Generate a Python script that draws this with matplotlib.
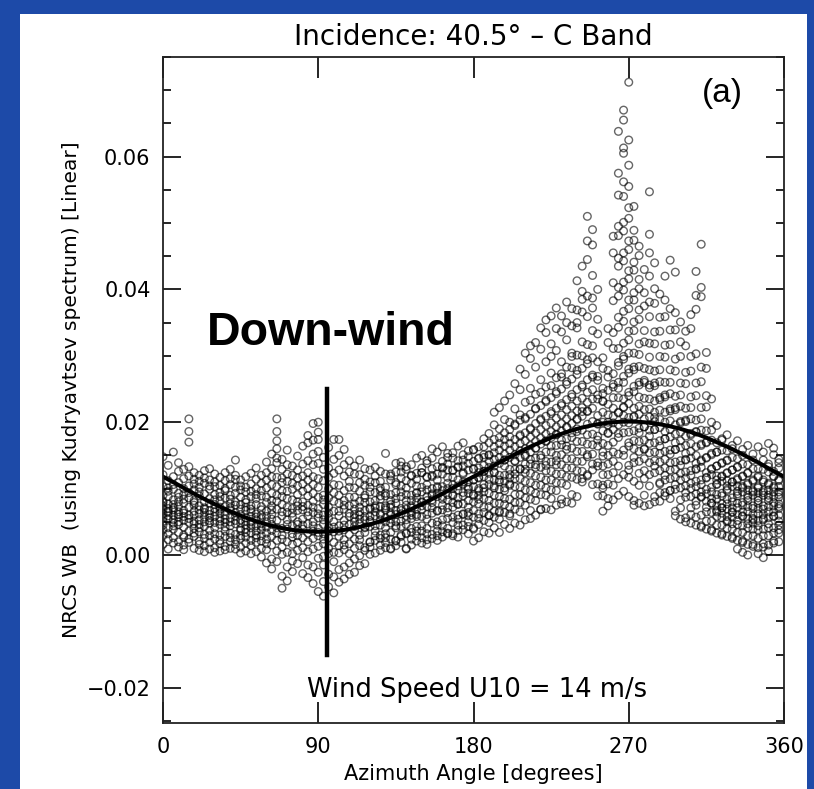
import numpy as np
import matplotlib.pyplot as plt
from matplotlib.patches import Rectangle
from matplotlib.ticker import MultipleLocator

# NRCS values, in units of 1e-3, one list per azimuth column (3 deg apart)
AZIMUTH = np.arange(0, 360, 3)
NRCS = [
    [6.2, 8.1, 4.5, 10.3, 7.4, 2.9, 5.6, 12.1, 9.0, 3.8, 6.9, 14.8, 1.6, 7.9, 5.1],
    [5.4, 9.6, 7.0, 3.2, 11.2, 6.4, 4.1, 8.8, 13.5, 2.3, 7.7, 5.9, 10.1, 0.9, 6.6],
    [7.1, 4.8, 9.9, 2.6, 6.0, 11.8, 8.3, 3.9, 5.3, 15.5, 7.6, 1.8, 10.6, 6.8, 4.4],
    [6.5, 3.4, 8.7, 10.9, 5.0, 1.2, 7.3, 12.6, 4.6, 9.3, 2.0, 6.1, 8.0, 13.9, 5.7],
    [5.8, 8.4, 3.0, 10.0, 6.7, 1.5, 7.8, 4.2, 11.5, 9.1, 2.7, 6.3, 12.9, 5.2, 0.8],
    [20.5, 18.6, 17.0, 6.0, 9.4, 3.6, 11.9, 7.2, 4.9, 13.3, 1.9, 8.6, 5.5, 10.4, 2.4],
    [5.1, 7.5, 2.8, 9.8, 11.4, 4.0, 6.6, 1.0, 8.2, 12.4, 3.3, 6.0, 10.7, 4.7, 7.9],
    [4.6, 8.9, 6.2, 2.1, 10.2, 5.3, 12.0, 3.5, 7.4, 0.7, 9.5, 6.8, 4.1, 11.1, 1.6],
    [6.4, 3.1, 8.0, 10.8, 5.0, 1.4, 7.1, 12.7, 4.3, 9.2, 2.5, 6.9, 11.6, 5.7, 0.5],
    [5.2, 7.8, 9.9, 3.7, 6.1, 1.9, 11.3, 4.8, 8.5, 2.9, 10.4, 6.7, 0.9, 13.0, 5.6],
    [4.9, 7.0, 2.4, 9.1, 5.8, 11.0, 3.2, 6.5, 8.3, 1.1, 10.3, 4.1, 12.2, 7.6, 0.4],
    [5.5, 3.0, 8.1, 6.3, 10.5, 1.7, 4.6, 9.4, 7.2, 2.2, 11.7, 5.1, 0.6, 8.8, 6.9],
    [6.0, 4.2, 8.6, 2.8, 10.0, 5.4, 7.3, 1.3, 9.7, 3.6, 12.4, 6.6, 0.8, 4.9, 11.2],
    [4.4, 7.7, 2.0, 9.0, 5.6, 11.5, 3.3, 6.8, 1.0, 8.4, 10.6, 5.0, 12.9, 2.6, 7.1],
    [14.3, 5.2, 8.0, 3.1, 6.4, 10.2, 1.6, 4.7, 9.3, 7.5, 2.3, 11.4, 5.9, 0.9, 12.0],
    [4.8, 6.9, 2.5, 8.7, 5.3, 10.4, 1.2, 7.6, 3.7, 9.8, 0.3, 6.1, 11.3, 4.0, 2.9],
    [5.6, 3.4, 7.9, 1.8, 9.5, 4.5, 6.7, 11.8, 2.7, 8.3, 0.6, 5.1, 10.2, 3.9, 7.2],
    [4.1, 6.5, 2.2, 8.8, 5.0, 10.7, 1.4, 7.4, 3.3, 9.6, 0.2, 5.8, 12.3, 4.6, 6.9],
    [5.3, 3.0, 7.6, 1.9, 9.1, 4.4, 6.2, 11.4, 2.6, 8.5, 0.5, 5.7, 10.0, 3.6, 13.1],
    [4.7, 6.8, 2.1, 8.9, 5.5, 10.8, 1.0, 7.3, 3.8, 9.7, -0.3, 6.0, 12.0, 4.3, 2.9],
    [5.0, 7.9, 2.4, 10.1, 4.2, 12.4, 0.8, 6.6, 3.3, 8.7, -1.2, 5.8, 11.3, 1.7, 14.0],
    [4.6, 8.2, 1.5, 10.6, 6.1, 13.0, -0.6, 3.7, 9.3, 5.4, 11.8, -2.1, 7.4, 2.8, 15.2, 6.8],
    [20.5, 18.6, 17.2, 16.0, 5.2, 9.0, 2.2, 11.7, 6.9, 13.9, -1.0, 4.1, 8.1, 0.6, 14.6, 3.3, 10.3],
    [4.0, 7.6, 1.2, 10.9, 5.9, 12.9, -3.2, 3.0, 8.8, -5.0, 14.4, 6.5, 0.1, 9.7, 2.4, 11.6],
    [5.3, 8.5, 2.0, 11.1, 6.4, 13.6, -1.8, 3.9, 9.6, -3.9, 4.6, 0.4, 7.2, 12.2, 15.8],
    [4.4, 7.0, 1.6, 9.9, 5.7, 12.0, -2.5, 3.2, 8.3, 0.2, 10.8, 6.3, 2.7, 13.4, -0.9],
    [5.0, 8.0, 2.9, 10.4, 6.7, 12.8, -1.3, 3.8, 9.1, 0.7, 11.6, 4.6, 14.9, 1.9, 7.4],
    [3.9, 6.8, 1.1, 9.6, 5.4, 11.9, -2.8, 2.6, 8.0, -0.4, 10.7, 4.5, 13.7, 7.3, 16.4],
    [4.7, 7.5, 2.0, 10.0, 5.9, 12.4, -3.4, 3.3, 8.9, 0.5, 11.3, -1.5, 6.5, 14.2, 16.9, 18.0],
    [3.6, 6.4, 0.9, 9.3, 5.0, 11.8, -4.3, 2.5, 8.1, -1.8, 10.6, 4.4, 13.6, 19.8, 17.3, 15.2, 7.2],
    [20.0, 18.5, 17.4, 4.0, 7.0, 1.3, 10.2, -5.5, 2.9, 8.7, -2.6, 11.5, 5.6, -0.5, 13.8, 15.6, 6.2, 3.4],
    [3.2, 6.0, -0.2, 9.0, 4.6, 11.2, -4.0, 1.7, 7.6, -6.2, 12.9, 2.4, 5.3, 14.7, -1.5, 8.3],
    [4.1, 7.2, 1.0, 10.0, 5.5, 13.1, -2.9, 2.6, 8.6, -4.8, 11.7, 6.3, 16.2, 0.2, 3.6],
    [3.5, 6.6, 0.4, 9.4, 5.0, 12.3, -3.3, 1.9, 8.1, -5.7, 14.4, 10.6, 4.2, -1.0, 17.4],
    [4.4, 7.8, 1.4, 10.5, 5.9, 12.8, -2.2, 2.8, 9.0, -4.1, 15.0, 6.6, 17.4, 0.3, 3.6],
    [3.8, 6.9, 0.8, 9.7, 5.2, 11.9, -1.8, 2.3, 8.2, -3.6, 13.6, 4.5, 15.9, 7.5, 1.5],
    [4.6, 7.4, 1.7, 10.2, 5.8, 12.5, -1.2, 3.1, 8.7, -2.9, 14.2, 6.3, 0.2, 11.1],
    [4.3, 6.9, 1.0, 8.7, 5.6, 12.2, -0.6, 2.4, 7.7, -2.6, 13.4, 3.8, 10.1, 6.1, 5.0],
    [5.4, 7.2, 2.3, 10.9, 6.5, 12.1, -0.1, 3.0, 9.6, 1.4, 14.3, 4.7, 8.1, -1.6, 6.0],
    [4.2, 7.9, 1.1, 9.0, 5.3, 11.4, 0.7, 3.4, 8.6, -1.3, 10.5, 4.1, 6.7, 13.0, 5.8],
    [5.8, 8.0, 2.0, 10.2, 6.9, 12.8, 1.2, 4.3, 9.5, 1.9, 4.9, 7.1, 11.0, 0.1, 5.2],
    [4.4, 7.1, 2.2, 9.4, 6.5, 11.9, 0.3, 3.6, 8.2, 5.9, 2.9, 10.9, 13.2, 7.4],
    [6.0, 8.9, 2.5, 10.1, 6.2, 12.6, 1.5, 4.5, 9.7, 3.0, 7.3, 11.1, 0.7, 5.3, 8.4],
    [15.3, 5.6, 7.4, 2.6, 9.3, 6.8, 12.2, 1.1, 3.2, 8.9, 4.1, 1.9, 10.2, 7.1, 5.0],
    [6.3, 8.2, 3.4, 11.3, 7.6, 12.2, 1.0, 4.8, 9.1, 2.4, 6.0, 11.9, 0.9, 7.2, 5.4],
    [5.0, 8.5, 2.1, 10.6, 6.1, 12.5, 1.4, 4.1, 9.4, 4.4, 7.8, 10.9, 13.8, 2.2, 6.7],
    [6.7, 9.5, 3.0, 11.6, 7.0, 13.4, 1.9, 4.3, 10.4, 2.8, 5.1, 8.8, 12.5, 14.0, 6.2],
    [5.3, 8.2, 3.3, 10.1, 7.5, 12.9, 1.0, 4.6, 9.1, 3.2, 6.9, 11.2, 0.9, 13.3, 5.9],
    [7.1, 9.0, 3.4, 11.9, 7.4, 13.6, 2.4, 5.5, 10.8, 4.0, 6.4, 8.2, 12.0, 1.5, 6.0],
    [5.8, 9.4, 3.6, 10.4, 7.9, 12.3, 2.1, 4.3, 9.3, 2.9, 6.1, 11.4, 14.6, 8.6, 6.9],
    [7.4, 9.5, 4.4, 12.4, 8.0, 13.1, 2.6, 5.8, 10.2, 3.6, 6.8, 12.4, 1.8, 15.0, 7.9],
    [6.1, 9.8, 3.2, 11.8, 7.3, 13.8, 2.3, 5.4, 10.6, 4.0, 8.2, 11.7, 14.2, 1.6, 8.8],
    [7.9, 10.0, 4.8, 12.0, 9.2, 14.6, 2.5, 6.3, 11.8, 3.1, 7.1, 9.0, 13.0, 16.0, 8.3],
    [6.7, 10.3, 4.5, 11.3, 8.8, 13.3, 2.9, 5.0, 10.1, 3.6, 6.6, 12.2, 15.5, 2.2, 9.3],
    [8.4, 10.3, 5.3, 13.2, 8.8, 14.1, 3.5, 6.8, 12.2, 4.4, 7.5, 13.1, 2.7, 16.3, 9.7],
    [7.1, 10.8, 4.0, 12.8, 8.3, 14.7, 3.3, 5.5, 11.7, 3.2, 6.4, 10.0, 13.7, 15.3, 9.1],
    [8.9, 11.7, 5.7, 12.8, 9.1, 15.4, 3.2, 7.2, 12.7, 4.9, 7.9, 10.0, 14.6, 2.9, 10.6],
    [7.7, 10.4, 5.4, 13.2, 9.8, 14.2, 3.7, 6.0, 11.3, 4.5, 7.6, 13.3, 16.4, 2.7, 8.6],
    [9.4, 12.2, 6.2, 13.4, 10.7, 15.1, 4.5, 7.7, 12.4, 3.8, 6.1, 8.9, 14.3, 16.9, 11.0],
    [8.2, 11.0, 5.9, 13.8, 9.3, 15.7, 4.3, 6.4, 12.8, 5.0, 7.2, 10.2, 14.8, 3.2, 9.9],
    [9.1, 12.9, 6.7, 14.1, 11.3, 15.8, 4.1, 8.0, 13.0, 3.9, 8.9, 11.3, 15.9, 5.7, 2.1, 10.3],
    [9.7, 11.6, 5.5, 14.5, 10.0, 16.3, 4.6, 7.7, 12.4, 2.6, 8.4, 11.7, 14.6, 6.2, 13.1, 9.0],
    [10.6, 12.6, 7.2, 14.7, 11.8, 16.3, 5.2, 8.5, 13.5, 3.5, 9.5, 12.6, 6.4, 15.1, 17.5, 10.1],
    [9.3, 13.2, 6.0, 15.0, 10.6, 16.9, 4.9, 7.3, 14.1, 3.3, 8.2, 5.9, 12.3, 15.1, 18.3, 11.4],
    [11.3, 13.4, 7.8, 15.4, 12.5, 17.4, 5.7, 9.0, 14.4, 4.1, 10.1, 6.6, 12.4, 16.3, 19.6, 21.5, 10.4],
    [9.9, 13.8, 6.6, 15.8, 11.3, 17.7, 5.4, 7.8, 14.7, 3.4, 8.8, 12.0, 16.8, 6.4, 19.0, 22.2, 11.0],
    [12.0, 14.3, 8.5, 16.4, 13.4, 18.4, 6.4, 9.7, 15.2, 4.6, 10.1, 14.3, 7.6, 17.4, 20.4, 23.2, 11.1],
    [10.7, 14.7, 7.2, 16.8, 12.1, 18.9, 5.9, 8.4, 15.8, 4.0, 10.5, 12.9, 17.8, 20.0, 24.1, 6.2, 11.6],
    [12.9, 15.1, 9.1, 17.4, 14.2, 19.7, 6.9, 10.3, 16.3, 4.8, 11.5, 14.1, 19.5, 22.0, 25.8, 7.9, 12.2],
    [11.5, 15.7, 7.9, 17.9, 12.9, 20.3, 6.5, 9.1, 16.8, 4.5, 10.2, 14.7, 18.1, 21.1, 24.9, 28.0, 13.0],
    [13.7, 16.0, 9.8, 18.4, 15.1, 20.7, 7.5, 11.1, 17.2, 5.3, 12.4, 14.9, 20.5, 23.0, 27.2, 30.4, 8.6, 12.9],
    [12.3, 16.5, 8.4, 18.9, 13.7, 21.2, 6.7, 9.7, 17.8, 5.5, 10.9, 15.5, 19.1, 23.3, 25.1, 29.6, 31.5, 14.4],
    [14.6, 17.1, 10.5, 19.8, 16.1, 22.1, 8.2, 11.9, 18.4, 6.0, 13.2, 16.1, 22.0, 24.2, 28.3, 32.0, 9.3, 13.6],
    [13.2, 17.6, 9.1, 20.3, 14.6, 22.5, 6.9, 10.5, 18.9, 6.8, 11.7, 16.7, 20.5, 24.5, 26.4, 31.0, 34.2, 15.0],
    [15.5, 18.2, 11.3, 20.9, 17.1, 23.3, 9.0, 12.7, 19.5, 7.0, 14.1, 17.2, 23.1, 25.3, 29.1, 33.5, 10.1, 35.4, 13.5],
    [14.0, 18.6, 9.8, 21.3, 15.5, 23.7, 8.5, 11.3, 19.9, 6.8, 12.6, 17.7, 21.6, 25.5, 27.4, 31.8, 36.0, 29.9, 16.4],
    [16.5, 19.3, 12.2, 22.1, 18.1, 24.6, 9.7, 13.6, 20.6, 7.5, 15.0, 18.2, 24.3, 26.7, 30.8, 34.1, 10.9, 37.2, 14.2],
    [15.1, 19.8, 10.8, 22.5, 16.6, 25.0, 8.4, 12.2, 21.1, 7.7, 13.6, 18.7, 22.8, 26.8, 29.1, 33.6, 36.0, 27.3, 17.3],
    [17.5, 20.5, 13.1, 23.4, 19.2, 26.1, 10.5, 14.5, 21.9, 8.0, 15.9, 19.3, 25.7, 28.3, 32.4, 35.0, 38.1, 11.8, 16.4],
    [16.1, 21.0, 11.7, 23.8, 17.7, 26.5, 9.1, 13.1, 22.4, 7.8, 14.5, 19.8, 24.2, 28.2, 30.4, 34.5, 37.1, 29.9, 18.4],
    [18.6, 21.7, 14.1, 24.9, 20.4, 27.8, 11.4, 15.6, 23.2, 8.8, 17.1, 20.5, 27.2, 30.1, 34.2, 36.9, 41.3, 12.7, 35.0, 19.0],
    [17.1, 22.2, 12.6, 25.3, 18.8, 28.1, 11.5, 14.1, 23.6, 11.0, 15.6, 20.9, 25.6, 30.0, 32.1, 36.6, 39.7, 43.5, 38.5, 21.6],
    [19.7, 23.0, 15.1, 26.4, 21.6, 29.4, 12.1, 16.7, 24.5, 11.9, 18.1, 21.7, 28.8, 31.7, 35.9, 39.0, 44.5, 47.3, 51.0, 14.8],
    [18.2, 23.5, 13.7, 26.8, 20.1, 29.7, 12.8, 15.2, 24.9, 10.6, 16.6, 22.1, 27.1, 31.5, 33.8, 38.7, 42.1, 46.7, 49.0, 37.2],
    [17.9, 21.0, 13.4, 24.1, 19.8, 26.9, 10.7, 13.9, 23.5, 8.9, 16.4, 19.7, 26.3, 29.1, 33.3, 35.5, 40.0, 17.3],
    [14.9, 20.0, 10.5, 23.1, 16.8, 25.1, 8.9, 12.1, 21.5, 6.6, 13.4, 18.7, 23.2, 28.1, 29.7, 15.5, 10.1, 24.3],
    [16.5, 19.6, 12.1, 22.7, 18.4, 26.8, 8.5, 13.7, 21.1, 7.4, 15.0, 18.3, 24.8, 27.8, 32.0, 34.1, 10.7, 20.0],
    [17.0, 22.1, 12.4, 25.3, 18.9, 27.3, 10.5, 14.1, 23.7, 8.3, 15.5, 20.9, 25.7, 31.1, 33.5, 38.3, 41.0, 45.5, 48.0, 19.9],
    [18.3, 23.7, 13.4, 26.0, 21.4, 29.0, 11.5, 15.2, 25.1, 9.0, 17.7, 21.5, 28.5, 31.1, 34.3, 35.8, 39.0, 40.3,
     43.5, 44.7, 48.1, 49.5, 54.2, 57.5, 63.8, 19.6],
    [20.0, 23.5, 15.0, 26.9, 22.2, 29.9, 12.1, 15.8, 26.0, 9.6, 18.4, 22.3, 29.5, 31.9, 35.2, 36.7, 39.9, 41.1,
     44.3, 45.5, 48.8, 50.1, 54.0, 56.2, 60.5, 61.3, 65.5, 67.0, 21.0],
    [18.5, 24.0, 13.5, 27.4, 20.7, 30.4, 11.7, 16.4, 24.5, 8.8, 16.9, 22.8, 28.0, 32.4, 33.7, 37.1, 38.4, 41.6,
     42.8, 46.0, 47.3, 50.7, 52.3, 55.5, 58.7, 71.2, 62.5, 12.8, 19.9],
    [18.7, 22.1, 13.9, 25.4, 20.8, 28.3, 11.1, 14.7, 24.6, 8.2, 17.2, 20.9, 27.9, 30.4, 33.8, 35.1, 38.4, 39.5,
     42.9, 44.1, 47.4, 48.9, 52.5, 7.5, 16.0],
    [17.1, 22.4, 12.3, 25.6, 19.1, 28.4, 10.5, 14.1, 23.8, 7.8, 15.6, 21.2, 26.0, 30.2, 31.8, 35.5, 36.9, 40.1, 41.5, 45.1, 46.5, 18.4],
    [17.3, 20.5, 12.7, 23.6, 19.3, 26.3, 9.0, 14.5, 21.9, 7.4, 15.9, 19.3, 26.0, 28.1, 32.1, 33.8, 37.5, 39.5, 43.0, 11.5, 16.0],
    [16.8, 22.0, 12.1, 25.2, 18.8, 27.9, 10.4, 13.9, 23.5, 7.6, 15.4, 20.8, 25.6, 29.8, 31.9, 35.9, 38.1, 42.0, 45.5, 48.3, 54.7, 17.9],
    [16.9, 20.1, 12.4, 23.2, 18.9, 25.9, 8.8, 14.2, 21.5, 8.0, 15.5, 18.9, 25.5, 27.7, 31.8, 33.6, 37.9, 40.1, 44.0, 13.4, 20.7],
    [15.3, 20.4, 10.9, 23.4, 17.2, 26.1, 9.4, 12.7, 21.8, 8.1, 14.0, 19.2, 23.7, 27.9, 29.9, 33.7, 35.8, 39.3, 10.7, 16.4],
    [15.6, 18.6, 11.3, 21.5, 17.5, 24.1, 8.9, 13.1, 20.0, 9.4, 14.4, 17.5, 23.8, 26.0, 29.8, 31.6, 35.9, 38.4, 42.0, 12.0],
    [13.9, 18.9, 9.7, 21.7, 15.8, 24.3, 8.5, 11.5, 20.2, 9.7, 12.8, 17.8, 22.0, 26.0, 27.9, 31.7, 33.9, 37.1, 44.4, 15.2],
    [14.0, 16.9, 9.9, 19.6, 15.9, 22.2, 6.6, 11.7, 18.2, 5.9, 12.9, 15.9, 21.9, 23.9, 27.7, 29.5, 33.9, 36.5, 42.6, 10.6],
    [12.3, 17.2, 8.3, 19.9, 14.2, 22.4, 7.1, 10.1, 18.5, 5.4, 11.3, 16.2, 20.1, 24.1, 25.9, 29.9, 32.1, 35.1, 13.5],
    [12.5, 15.3, 8.7, 17.9, 14.4, 20.3, 5.6, 10.4, 16.5, 5.0, 11.6, 14.3, 20.1, 22.1, 25.8, 27.5, 31.5, 33.7, 9.4],
    [10.8, 15.6, 7.1, 18.1, 12.7, 20.5, 6.1, 8.8, 16.8, 4.8, 10.0, 14.6, 18.3, 22.2, 23.8, 27.7, 29.9, 34.1, 36.2, 12.0],
    [11.1, 13.8, 7.5, 16.3, 13.0, 18.6, 5.7, 9.2, 15.0, 4.5, 10.3, 12.9, 18.5, 20.3, 24.0, 25.9, 30.3, 37.0, 42.7, 39.1, 8.1],
    [9.5, 14.1, 6.0, 16.5, 11.3, 18.8, 4.4, 8.7, 14.3, 4.2, 8.8, 13.2, 16.7, 20.5, 22.2, 26.1, 28.3, 46.8, 40.3, 38.9, 10.6],
    [9.9, 12.4, 6.5, 14.7, 11.7, 17.0, 5.1, 7.2, 14.6, 3.9, 9.2, 11.6, 16.9, 18.7, 22.3, 24.0, 28.1, 30.5, 8.1],
    [8.5, 12.9, 5.1, 15.1, 10.2, 17.3, 3.8, 7.8, 13.0, 3.6, 7.8, 12.1, 15.3, 18.8, 20.0, 23.5, 9.5, 6.4],
    [9.1, 11.3, 5.8, 13.4, 10.7, 15.5, 4.5, 6.5, 13.4, 3.3, 8.4, 10.6, 15.5, 16.9, 19.5, 6.7, 7.4, 11.9],
    [7.7, 11.8, 4.5, 13.8, 9.3, 15.8, 3.2, 7.1, 11.9, 3.0, 7.1, 11.1, 13.9, 17.3, 17.5, 6.3, 8.9, 5.6],
    [8.4, 10.4, 5.2, 12.3, 9.9, 14.2, 4.0, 5.8, 12.4, 2.8, 7.7, 9.7, 14.3, 15.7, 18.1, 5.0, 6.9, 11.2],
    [7.1, 11.0, 3.9, 12.8, 8.6, 14.7, 2.7, 6.5, 11.0, 2.5, 6.4, 10.3, 12.8, 16.0, 16.5, 5.7, 8.0, 4.7],
    [7.8, 9.6, 4.6, 11.3, 9.2, 13.2, 3.4, 5.2, 11.5, 2.2, 7.1, 8.9, 13.3, 14.5, 17.2, 0.9, 6.1, 10.4],
    [6.5, 10.3, 3.4, 11.9, 7.9, 13.7, 2.1, 5.9, 10.1, 1.9, 5.8, 9.5, 11.8, 15.0, 15.9, 0.4, 7.5, 4.4],
    [7.3, 9.0, 4.1, 10.6, 8.6, 12.3, 2.9, 4.7, 10.8, 1.6, 6.5, 8.2, 12.4, 13.6, 16.5, 0.0, 5.5, 9.8],
    [6.1, 9.7, 2.9, 11.3, 7.4, 13.0, 1.6, 5.5, 9.5, 1.3, 5.3, 9.0, 11.1, 14.3, 15.2, 4.8, 7.0, 3.9],
    [7.0, 8.6, 3.8, 10.1, 8.2, 11.7, 2.5, 4.4, 10.3, 1.1, 6.2, 7.8, 11.9, 13.0, 16.3, 0.2, 5.2, 9.4],
    [6.1, 9.7, 2.9, 11.3, 7.4, 12.9, 1.7, 5.5, 9.4, 1.2, 5.3, 9.0, 11.0, 14.3, 15.5, -0.4, 6.9, 3.9],
    [7.3, 9.0, 4.1, 10.6, 8.6, 13.3, 2.9, 4.7, 10.8, 1.5, 6.5, 8.2, 12.5, 13.7, 16.8, 0.6, 5.6, 9.8],
    [6.5, 10.3, 3.3, 11.9, 7.9, 12.6, 2.1, 5.9, 10.1, 1.8, 5.8, 9.5, 11.8, 15.1, 16.1, 4.1, 7.4, 8.8],
    [7.7, 9.5, 4.5, 11.2, 9.1, 13.9, 3.3, 5.1, 11.4, 2.0, 7.0, 8.7, 13.1, 14.4, 3.8, 7.3, 6.0, 10.3],
]

# fitted curve, read every 5 deg (1e-3)
FIT_AZ = np.arange(0, 365, 5)
FIT = [11.8, 11.1, 10.4, 9.65, 8.96, 8.29, 7.65, 7.04, 6.46, 5.93, 5.44, 5.0, 4.61, 4.28, 4.0, 3.78,
       3.62, 3.53, 3.5, 3.53, 3.62, 3.78, 4.0, 4.28, 4.61, 5.0, 5.44, 5.93, 6.46, 7.04, 7.65, 8.29,
       8.96, 9.65, 10.4, 11.1, 11.8, 12.5, 13.2, 13.95, 14.6, 15.3, 15.95, 16.56, 17.1, 17.67, 18.16,
       18.6, 19.0, 19.32, 19.6, 19.82, 19.97, 20.07, 20.1, 20.07, 19.97, 19.82, 19.6, 19.32, 19.0,
       18.6, 18.16, 17.67, 17.1, 16.56, 15.95, 15.3, 14.6, 13.95, 13.2, 12.5, 11.8]

xs = np.concatenate([np.full(len(v), a) for a, v in zip(AZIMUTH, NRCS)])
ys = np.concatenate([np.array(v) for v in NRCS]) * 1e-3

fig = plt.figure(figsize=(8.14, 7.89), dpi=100)
fig.patch.set_facecolor('#1d4aa8')
fig.patches.append(Rectangle((20 / 814, 0), 787 / 814, 775 / 789, transform=fig.transFigure,
                             facecolor='white', edgecolor='none', zorder=-10))

ax = fig.add_axes([163 / 814, 66 / 789, 621 / 814, 666 / 789])
ax.scatter(xs, ys, s=30, facecolors='none', edgecolors=(0, 0, 0, 0.6), linewidths=1.0)
ax.plot(FIT_AZ, np.array(FIT) * 1e-3, color='black', lw=2.9)
ax.plot([95, 95], [-0.015, 0.025], color='black', lw=3.2)

ax.set_xlim(0, 360)
ax.set_ylim(-0.0253, 0.075)
ax.set_xticks([0, 90, 180, 270, 360])
ax.set_yticks([-0.02, 0.0, 0.02, 0.04, 0.06])
ax.set_yticklabels(['\u22120.02', '0.00', '0.02', '0.04', '0.06'])
ax.yaxis.set_minor_locator(MultipleLocator(0.005))
ax.tick_params(which='both', direction='in', top=True, right=True, labelsize=15)
ax.tick_params(which='major', length=13, width=1.2)
ax.tick_params(which='minor', length=6, width=1.2)
ax.tick_params(axis='x', which='major', length=15, pad=10)
ax.tick_params(axis='y', pad=9)
for s in ax.spines.values():
    s.set_linewidth(1.3)
    s.set_color('#222222')

ax.set_xlabel('Azimuth Angle [degrees]', fontsize=15, labelpad=5)
ax.set_ylabel('NRCS WB  (using Kudryavtsev spectrum) [Linear]', fontsize=14.5, labelpad=4)
fig.text(473 / 814, 1 - 37 / 789, 'Incidence: 40.5\u00b0 \u2013 C Band', fontsize=20,
         ha='center', va='center')

ax.text(97, 0.0335, 'Down-wind', fontsize=33.5, fontweight='bold', family='Liberation Sans',
        ha='center', va='center')
ax.text(324, 0.0695, '(a)', fontsize=24, family='Liberation Sans', ha='center', va='center')
ax.text(182, -0.0203, 'Wind Speed U10 = 14 m/s', fontsize=18.5, ha='center', va='center')

fig.savefig('out.png', dpi=100, facecolor=fig.get_facecolor())
